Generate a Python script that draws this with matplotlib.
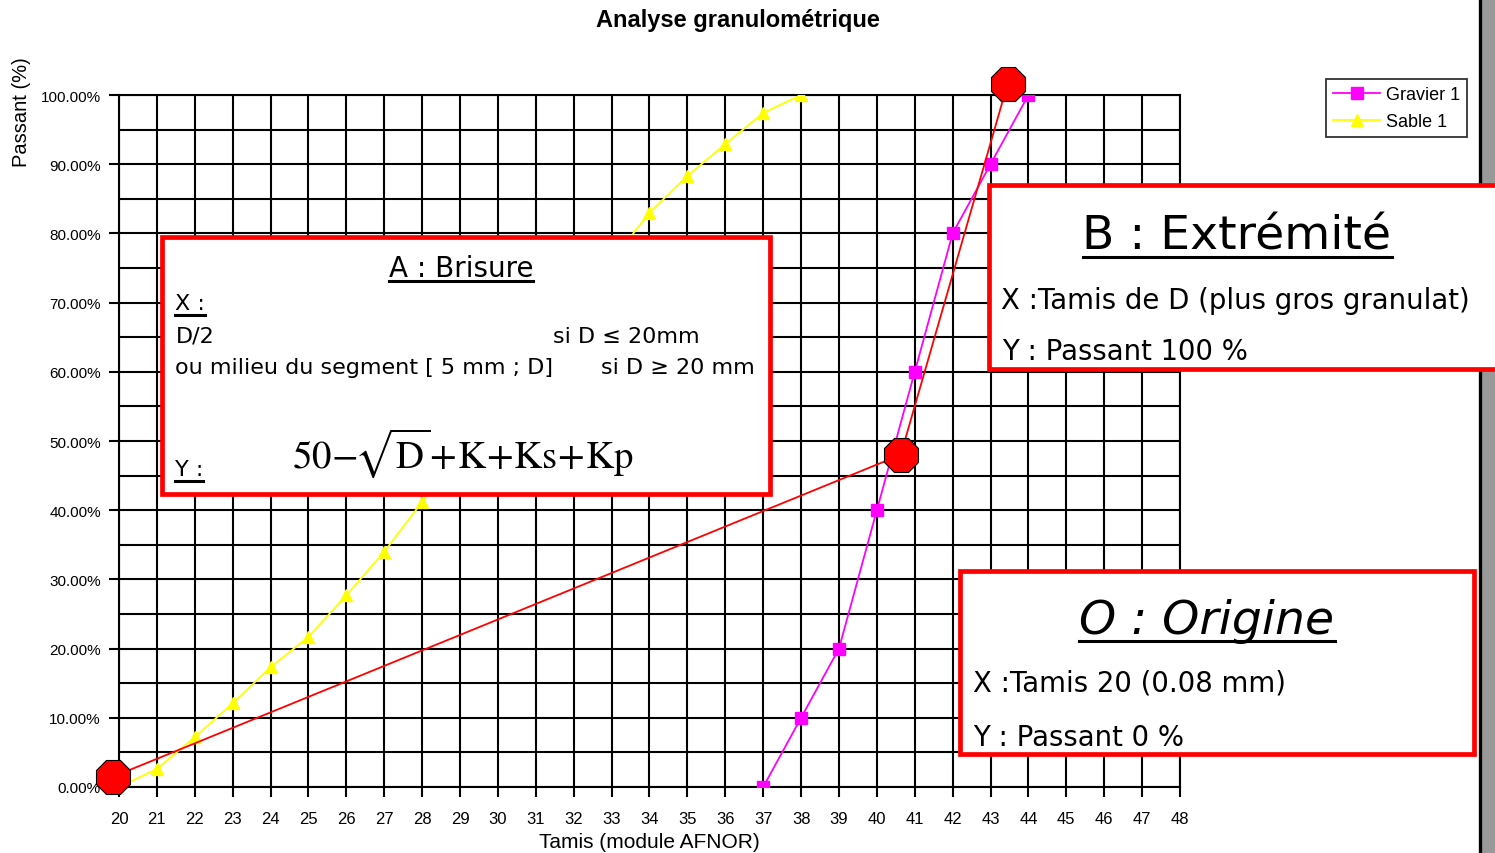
import matplotlib
matplotlib.use('Agg')
import matplotlib.pyplot as plt
from matplotlib.patches import Rectangle
from matplotlib.lines import Line2D

plt.rcParams['mathtext.fontset'] = 'stix'

# ---------------- data ----------------
sieve_ticks = list(range(20, 49))
y_ticks = list(range(0, 101, 10))
y_tick_labels = [f"{v:.2f}%" for v in y_ticks]

gravier_x = [37, 38, 39, 40, 41, 42, 43, 44]
gravier_y = [0, 10, 20, 40, 60, 80, 90, 100]

sable_x = [20, 21, 22, 23, 24, 25, 26, 27, 28, 29, 30, 31, 32, 33, 34, 35, 36, 37, 38]
sable_y = [0, 2.6, 7.2, 12.1, 17.3, 21.7, 27.7, 34.0, 41.2, 48, 55, 62, 69, 76, 83, 88.3, 92.9, 97.4, 100]

ref_x = [19.85, 40.63, 43.45]   # O, A, B
ref_y = [1.5, 48.0, 101.6]

# ---------------- figure ----------------
W, H = 1495, 854
fig = plt.figure(figsize=(W / 100, H / 100), dpi=100)
fig.patch.set_facecolor('white')

def fx(px):
    return px / W

def fy(py):
    return 1 - py / H

ax = fig.add_axes([fx(119), fy(788), fx(1180) - fx(119), fy(96) - fy(788)])
ax.set_xlim(20, 48)
ax.set_ylim(0, 100)
ax.set_xticks(sieve_ticks)
ax.set_xticklabels([str(t) for t in sieve_ticks], fontsize=12, family='Liberation Sans')
ax.set_yticks(y_ticks)
ax.set_yticklabels(y_tick_labels, fontsize=11, family='Liberation Sans')
ax.set_yticks(range(5, 100, 10), minor=True)
ax.grid(which='both', color='black', lw=1.5)
ax.set_axisbelow(True)
ax.tick_params(which='major', direction='out', length=7, width=1.5, color='black')
ax.tick_params(axis='x', which='major', pad=10)
ax.tick_params(axis='y', which='major', pad=6)
ax.tick_params(which='minor', length=0)
for s in ax.spines.values():
    s.set_color('black')
    s.set_linewidth(1.5)

l_grav, = ax.plot(gravier_x, gravier_y, color='#ff00ff', lw=1.3, marker='s', ms=8,
                  mfc='#ff00ff', mec='#ff00ff', label='Gravier 1', zorder=4)
l_sab, = ax.plot(sable_x, sable_y, color='#ffff00', lw=1.3, marker='^', ms=9,
                 mfc='#ffff00', mec='#ffff00', label='Sable 1', zorder=4)
ax.plot(ref_x, ref_y, color='red', lw=1.3, zorder=5, clip_on=False)
ax.plot(ref_x, ref_y, linestyle='none', marker='8', ms=26, mfc='red', mec='black',
        mew=0.8, zorder=6, clip_on=False)

# title and axis labels
fig.text(fx(738), fy(21), 'Analyse granulométrique', ha='center', va='center',
         fontsize=17, fontweight='bold', family='Liberation Sans')
fig.text(fx(649), fy(843), 'Tamis (module AFNOR)', ha='center', va='center',
         fontsize=15, family='Liberation Sans')
fig.text(fx(22), fy(112), 'Passant (%)', ha='center', va='center', rotation=90,
         fontsize=14.5, family='Liberation Sans')

# legend
leg = fig.legend(handles=[l_grav, l_sab], loc='upper left',
                 bbox_to_anchor=(fx(1326), fy(80)), frameon=True, fancybox=False,
                 edgecolor='black', handlelength=2.6, borderpad=0.4,
                 labelspacing=0.55, handletextpad=0.3, borderaxespad=0,
                 prop={'family': 'Liberation Sans', 'size': 13})
leg.get_frame().set_linewidth(1.3)

# right gray border
fig.add_artist(Rectangle((fx(1480), 0), fx(1500) - fx(1480), 1, transform=fig.transFigure,
                         fc='#999999', ec='none', zorder=2))
fig.add_artist(Line2D([fx(1479.5), fx(1479.5)], [0, 1], transform=fig.transFigure,
                      color='black', lw=2.4, zorder=2))

# boxes
def box(x0, y0, x1, y1):
    fig.add_artist(Rectangle((fx(x0), fy(y1)), fx(x1) - fx(x0), fy(y0) - fy(y1),
                             transform=fig.transFigure, fc='white', ec='red', lw=3.4, zorder=3))

box(162, 238, 770, 495)
box(989, 186, 1510, 370)
box(960, 572, 1474, 755)

texts = []
def ftext(px, py, s, size, ha='left', underline=None, **kw):
    t = fig.text(fx(px), fy(py), s, ha=ha, va='baseline', fontsize=size,
                 family=kw.pop('family', 'DejaVu Sans'), zorder=4, **kw)
    if underline is not None:
        texts.append((t, underline))
    return t

# Box A
ftext(461, 277, 'A : Brisure', 20, ha='center', underline=5)
ftext(175, 310, 'X :', 16, underline=6)
ftext(176, 343, 'D/2', 16)
ftext(553, 343, 'si D ≤ 20mm', 16)
ftext(175, 374, 'ou milieu du segment [ 5 mm ; D]', 16)
ftext(601, 374, 'si D ≥ 20 mm', 16)
ftext(175, 476, 'Y :', 16, underline=6)
ftext(292, 468, r'$\mathrm{50\!-\!\!\sqrt{D}\!+\!K\!+\!Ks\!+\!Kp}$', 28)

# Box B
ftext(1237, 250, 'B : Extrémité', 34, ha='center', underline=8)
ftext(1001, 309, 'X :Tamis de D (plus gros granulat)', 19.8)
ftext(1002, 360, 'Y : Passant 100 %', 19.8)

# Box O
ftext(1207, 634, 'O : Origine', 34, ha='center', underline=8, style='italic')
ftext(973, 692, 'X :Tamis 20 (0.08 mm)', 19.8)
ftext(973, 746, 'Y : Passant 0 %', 19.8)

fig.canvas.draw()
r = fig.canvas.get_renderer()
for t, off in texts:
    bb = t.get_window_extent(renderer=r)
    yb = t.get_position()[1]
    ypix = yb * H - off
    fig.add_artist(Line2D([bb.x0 / W, bb.x1 / W], [ypix / H, ypix / H],
                          transform=fig.transFigure, color='black', lw=2.2, zorder=4))

fig.savefig('out.png', dpi=100)
